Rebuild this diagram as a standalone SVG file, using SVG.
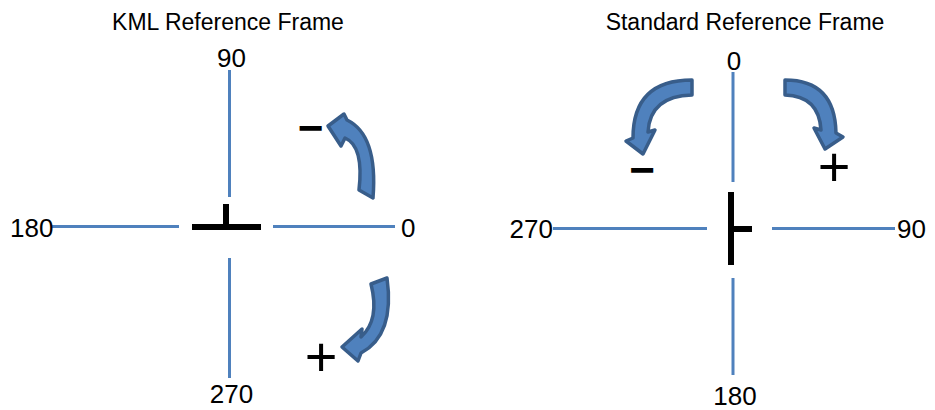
<svg xmlns="http://www.w3.org/2000/svg" width="935" height="410" viewBox="0 0 935 410">
<style>
.axis{stroke:#4F81BD;stroke-width:3;fill:none}
.mark{stroke:#000;stroke-width:6;fill:none}
.arrow{fill:#4F81BD;stroke:#385D8A;stroke-width:3.5;stroke-linejoin:round}
.title{font-family:"Liberation Sans",Arial,sans-serif;font-size:23px;fill:#000}
.num{font-family:"Liberation Sans",Arial,sans-serif;font-size:26px;fill:#000}
.minus{font-family:"Liberation Sans",Arial,sans-serif;font-size:44px;font-weight:bold;fill:#000}
.plus{font-family:"Liberation Sans",Arial,sans-serif;font-size:56px;fill:#000}
</style>
<rect width="935" height="410" fill="#fff"/>
<g id="kml-frame">
  <text class="title" x="228" y="30" text-anchor="middle">KML Reference Frame</text>
  <g id="kml-axes">
    <line class="axis" x1="52" y1="226.5" x2="179" y2="226.5"/>
    <line class="axis" x1="273" y1="226.5" x2="395" y2="226.5"/>
    <line class="axis" x1="229.5" y1="70" x2="229.5" y2="197"/>
    <line class="axis" x1="229.5" y1="258" x2="229.5" y2="378"/>
  </g>
  <g id="kml-marker">
    <line class="mark" x1="226" y1="204" x2="226" y2="227"/>
    <line class="mark" x1="192" y1="227" x2="261" y2="227"/>
  </g>
  <text class="num" x="231.5" y="67" text-anchor="middle">90</text>
  <text class="num" x="10" y="237">180</text>
  <text class="num" x="401" y="237">0</text>
  <text class="num" x="231.5" y="403" text-anchor="middle">270</text>
  <g id="kml-minus-arrow">
    <path class="arrow" d="M373,198 Q378,135 347,120 L344,114 L328,126 L341,146 L345,138 Q364,146 359,190 Z"/>
    <text class="minus" x="310.5" y="143" text-anchor="middle">−</text>
  </g>
  <g id="kml-plus-arrow">
    <path class="arrow" d="M371,284 L387,278 Q395,335 361,353 L358,361 L342,347 L362,329 L361,337 Q380,320 371,284 Z"/>
    <text class="plus" x="321" y="376" text-anchor="middle">+</text>
  </g>
</g>
<g id="standard-frame">
  <text class="title" x="745" y="30" text-anchor="middle">Standard Reference Frame</text>
  <g id="std-axes">
    <line class="axis" x1="553" y1="228.5" x2="707" y2="228.5"/>
    <line class="axis" x1="772" y1="228.5" x2="895" y2="228.5"/>
    <line class="axis" x1="733" y1="72" x2="733" y2="182"/>
    <line class="axis" x1="733" y1="278" x2="733" y2="375"/>
  </g>
  <g id="std-marker">
    <line class="mark" x1="731" y1="192" x2="731" y2="265"/>
    <line class="mark" x1="731" y1="229" x2="752" y2="229"/>
  </g>
  <text class="num" x="734" y="70" text-anchor="middle">0</text>
  <text class="num" x="553" y="238" text-anchor="end">270</text>
  <text class="num" x="897" y="238">90</text>
  <text class="num" x="735" y="405" text-anchor="middle">180</text>
  <g id="std-minus-arrow">
    <path class="arrow" d="M692,80 Q633,80 633,138 L626,141 L643,154 L655,130 L648,132 Q650,96 692,95 Z"/>
    <text class="minus" x="642" y="185" text-anchor="middle">−</text>
  </g>
  <g id="std-plus-arrow">
    <path class="arrow" d="M785,80 Q835,80 836,133 L843,137 L825,149 L814,128 L821,130 Q819,96 785,95 Z"/>
    <text class="plus" x="834" y="186" text-anchor="middle">+</text>
  </g>
</g>
</svg>
